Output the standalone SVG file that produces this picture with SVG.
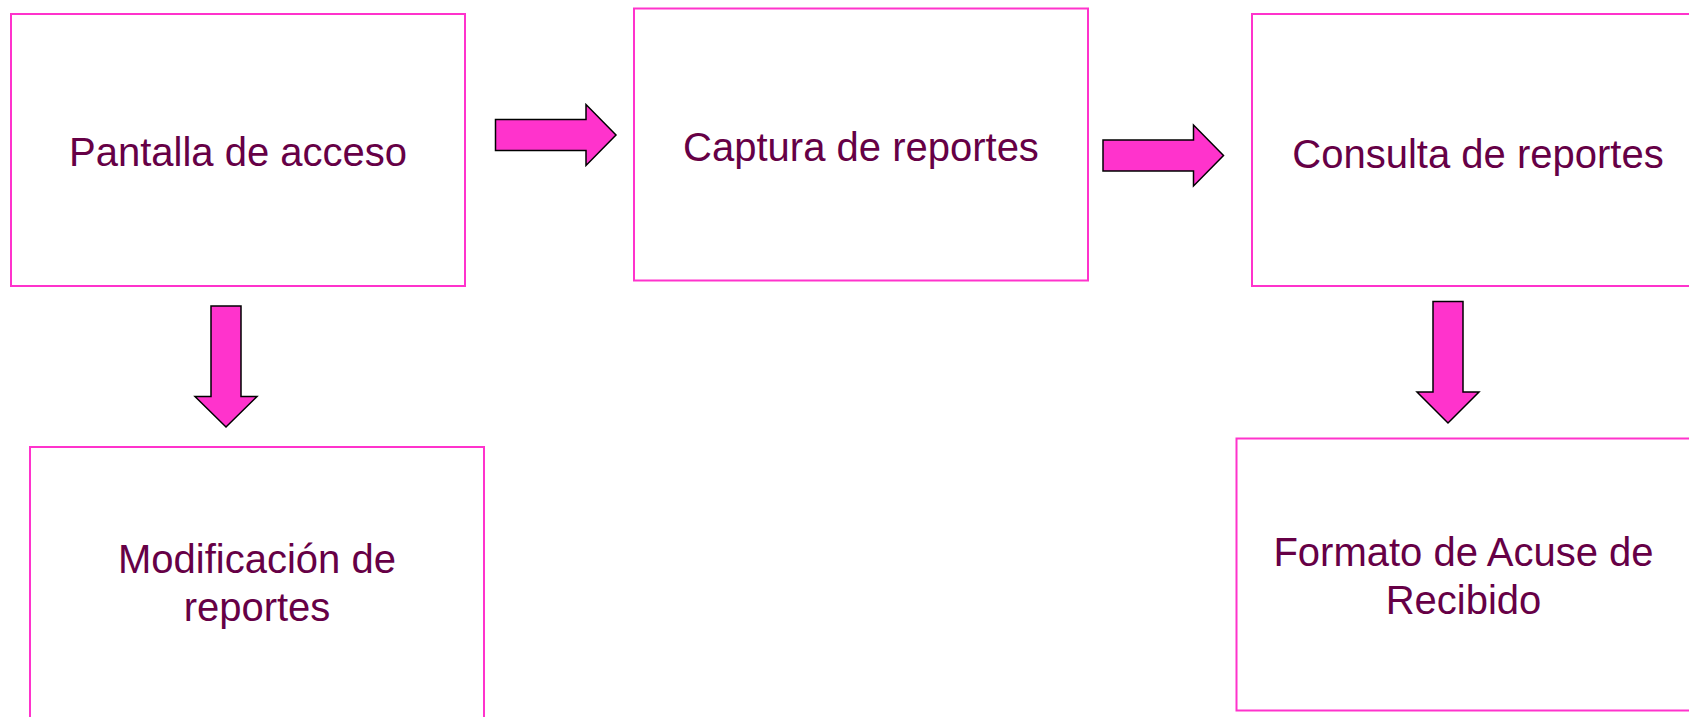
<svg xmlns="http://www.w3.org/2000/svg" width="1689" height="717" viewBox="0 0 1689 717">
<style>
.box{fill:#FFFFFF;stroke:#FF33CC;stroke-width:2}
.lbl{font-family:"Liberation Sans",Arial,sans-serif;font-size:40px;fill:#660046;text-anchor:middle}
.arw{fill:#FF33CC;stroke:#000000;stroke-width:1.5;stroke-linejoin:miter}
</style>
<rect width="1689" height="717" fill="#FFFFFF"/>
<g id="connectors">
<path class="arw" d="M495.5,119.5 L586,119.5 L586,104.5 L616,135 L586,165.5 L586,150.5 L495.5,150.5 Z"/>
<path class="arw" d="M1103,140 L1193.5,140 L1193.5,125 L1223.5,155.5 L1193.5,186 L1193.5,171 L1103,171 Z"/>
<path class="arw" d="M211,306 L241,306 L241,396.5 L257,396.5 L226,427 L195,396.5 L211,396.5 Z"/>
<path class="arw" d="M1433,301.5 L1463,301.5 L1463,392 L1479,392 L1448,423 L1417,392 L1433,392 Z"/>
</g>
<g id="node-pantalla">
<rect class="box" x="11" y="14" width="454" height="272"/>
<text class="lbl" x="238" y="166">Pantalla de acceso</text>
</g>
<g id="node-captura">
<rect class="box" x="634" y="8.5" width="454" height="272"/>
<text class="lbl" x="861" y="161">Captura de reportes</text>
</g>
<g id="node-consulta">
<rect class="box" x="1252" y="14" width="454" height="272"/>
<text class="lbl" x="1478" y="168">Consulta de reportes</text>
</g>
<g id="node-modificacion">
<rect class="box" x="30" y="447" width="454" height="272"/>
<text class="lbl" x="257" y="573">Modificación de</text>
<text class="lbl" x="257" y="621">reportes</text>
</g>
<g id="node-formato">
<rect class="box" x="1236.5" y="438.5" width="454" height="272"/>
<text class="lbl" x="1463.5" y="566">Formato de Acuse de</text>
<text class="lbl" x="1463.5" y="614">Recibido</text>
</g>
</svg>
